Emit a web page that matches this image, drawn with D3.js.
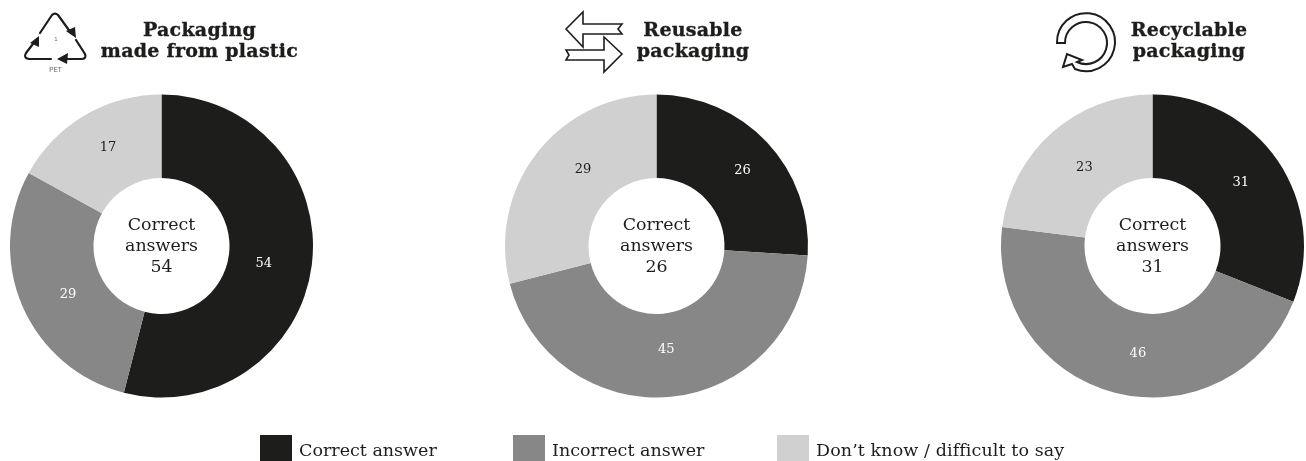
<!DOCTYPE html>
<html><head><meta charset="utf-8">
<script src="https://cdn.jsdelivr.net/npm/d3@7/dist/d3.min.js"></script>
<style>html,body{margin:0;padding:0;background:#fff}svg{display:block}text{font-family:"DejaVu Serif",serif}</style>
</head><body><div id="chart"></div>
<script>
const categories = ["Correct answer","Incorrect answer","Don’t know / difficult to say"];
const panelTitles = [["Packaging","made from plastic"],["Reusable","packaging"],["Recyclable","packaging"]];
const plasticValues = [54,29,17];
const reusableValues = [26,45,29];
const recyclableValues = [31,46,23];
const colors = ["#1d1d1b","#878787","#d0d0d0"];
const labelColors = ["#fff","#fff","#1d1d1b"];
const W=1306,H=461;
const svg=d3.select("#chart").append("svg").attr("width",W).attr("height",H).attr("viewBox",[0,0,W,H]);
const root=svg.append("g").attr("opacity",0.999);
const panels=[
 {values:plasticValues,cx:161.5,title:panelTitles[0],tx:199.5,nudge:[[0,3],[1,6],[-1,-11]]},
 {values:reusableValues,cx:656.5,title:panelTitles[1],tx:693,nudge:[[11,-6],[0,0],[8,-15]]},
 {values:recyclableValues,cx:1152.5,title:panelTitles[2],tx:1189,nudge:[[3,-7],[11,7],[0,-2]]}];
const cy=246,R=151.5,r=68,lr=103;
const pie=d3.pie().sort(null);
const arc=d3.arc().innerRadius(r).outerRadius(R);
const labelArc=d3.arc().innerRadius(lr).outerRadius(lr);
panels.forEach(p=>{
 const g=root.append("g").attr("transform",`translate(${p.cx},${cy})`);
 const d=pie(p.values);
 g.selectAll("path").data(d).join("path").attr("d",arc).attr("fill",(_,i)=>colors[i]);
 g.selectAll("text.v").data(d).join("text").attr("class","v")
  .attr("transform",(e,i)=>{const c=labelArc.centroid(e);return `translate(${c[0]+p.nudge[i][0]},${c[1]+p.nudge[i][1]})`;})
  .attr("text-anchor","middle").attr("dy","0.36em").attr("font-size",13)
  .attr("fill",(_,i)=>labelColors[i]).text(e=>e.data);
 const c=g.append("g").attr("text-anchor","middle").attr("fill","#1d1d1b").attr("font-size",17.4);
 ["Correct","answers",String(p.values[0])].forEach((t,i)=>c.append("text").attr("y",-16+i*21).text(t));
 const tt=root.append("g").attr("text-anchor","middle").attr("fill","#1d1d1b").attr("stroke","#1d1d1b").attr("stroke-width",0.35).attr("font-size",19).attr("font-weight","bold").attr("letter-spacing",0.25);
 p.title.forEach((t,i)=>tt.append("text").attr("x",p.tx).attr("y",35.5+i*21).text(t));
});
// icons
const ic=root.append("g").attr("fill","none").attr("stroke","#1d1d1b").attr("stroke-linejoin","round");
ic.append("path").attr("stroke-width",2.2).attr("stroke-linecap","round")
 .attr("d","M40 33L52 15Q55 12 58 15L71 33M76 40L85 54Q87 59 81 59H62M51 59H29Q23 58 26 53L36 40");
ic.append("path").attr("fill","#1d1d1b").attr("stroke","none").attr("d","M76 38L66 31L75 27ZM57 59L68 53L67 64ZM39 36L30 43L39 47Z");
root.append("text").attr("x",56).attr("y",41).attr("text-anchor","middle").attr("font-size",6).attr("fill","#666").style("font-family","Liberation Sans").text("1");
root.append("text").attr("x",55.500).attr("y",72).attr("text-anchor","middle").attr("font-size",6.5).attr("fill","#666").style("font-family","Liberation Sans").text("PET");
const ar=root.append("g").attr("transform","translate(540,0)").attr("fill","#fff").attr("stroke","#1d1d1b").attr("stroke-width",1.6).attr("stroke-linejoin","miter");
ar.append("path").attr("d","M26 29L43 12V24H82L78 29L82 34H43V47Z");
ar.append("path").attr("d","M64 37L82 54L64 72V60H26L29 55L26 50H64Z");
root.append("g").attr("transform","translate(1040,0)").append("path").attr("fill","#fff").attr("stroke","#1d1d1b").attr("stroke-width",2)
 .attr("d","M17 43A29 29 0 1 1 35 69L32 64L23 67L27 54L42 60L37 62A21 21 0 1 0 25 43Z");
// legend
const lg=root.append("g");
const lx=[260,513,777];
categories.forEach((c,i)=>{
 lg.append("rect").attr("x",lx[i]).attr("y",435).attr("width",32).attr("height",27).attr("fill",colors[i]);
 lg.append("text").attr("x",lx[i]+39).attr("y",456).attr("font-size",17.5).attr("fill","#1d1d1b").attr("letter-spacing",i===2?0.1:0).text(c);
});
</script></body></html>
